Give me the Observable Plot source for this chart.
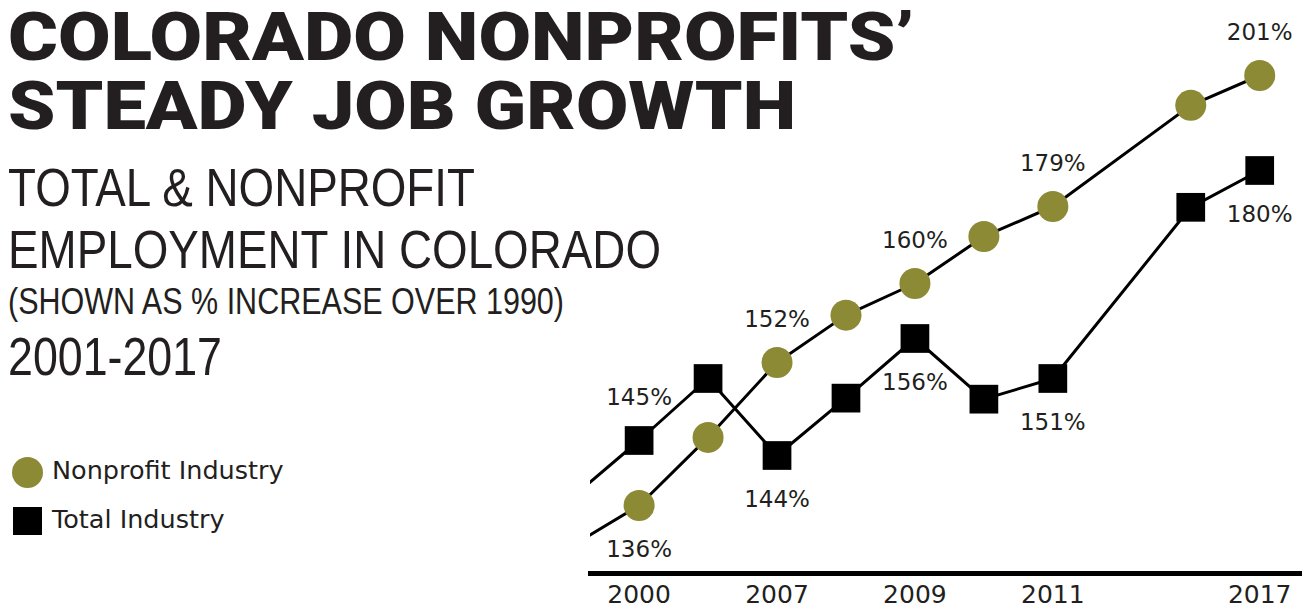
<!DOCTYPE html>
<html>
<head>
<meta charset="utf-8">
<script src="https://cdn.jsdelivr.net/npm/d3@7"></script>
<script src="https://cdn.jsdelivr.net/npm/@observablehq/plot@0.6"></script>
<style>
  html, body { margin: 0; padding: 0; background: #fff; }
  #wrap { position: relative; width: 1312px; height: 610px; overflow: hidden; background: #fff; }
  #chart { position: absolute; left: 0; top: 0; }
  .line { position: absolute; left: 8px; white-space: nowrap; line-height: 1; color: #231f20; transform-origin: 0 0; display: inline-block; }
  .title { font-family: "Roboto", "Liberation Sans", sans-serif; font-weight: 900; font-size: 66px; line-height: 0.75; }
  .sub { font-family: "Liberation Sans Narrow", "Liberation Sans", sans-serif; font-weight: 400; }
  .legend-text { position: absolute; left: 52px; font-family: "DejaVu Sans", sans-serif; font-size: 25.5px; line-height: 1; color: #231f20; white-space: nowrap; }
  .sw { position: absolute; }
</style>
</head>
<body>
<div id="wrap">
  <div id="chart"></div>
  <div class="line title" data-w="906" style="top:13px">COLORADO NONPROFITS’</div>
  <div class="line title" data-w="788" style="top:82px">STEADY JOB GROWTH</div>
  <div class="line sub" data-w="467" style="top:160px;font-size:54px">TOTAL &amp; NONPROFIT</div>
  <div class="line sub" data-w="653" style="top:222px;font-size:54px">EMPLOYMENT IN COLORADO</div>
  <div class="line sub" data-w="556" style="top:283px;font-size:37px">(SHOWN AS % INCREASE OVER 1990)</div>
  <div class="line sub" data-w="214" style="top:329px;font-size:54px">2001-2017</div>

  <div class="sw" style="left:12px;top:457px;width:31px;height:31px;border-radius:50%;background:#8c8a35"></div>
  <div class="legend-text" style="top:458px">Nonprofit Industry</div>
  <div class="sw" style="left:13px;top:507px;width:29px;height:28px;background:#000"></div>
  <div class="legend-text" style="top:507px">Total Industry</div>
</div>
<script>
// ---- data ----
// x steps along the time axis; step -1 is the unmarked lead-in from before 2000
const steps = [-1, 0, 1, 2, 3, 4, 5, 6, 8, 9];
const nonprofit = [129.4, 136, 145.3, 152, 157.7, 160, 171.6, 179, 194.4, 201];
const total     = [137, 145, 151, 144, 149.1, 156, 149, 151, 178.8, 180];
// which points carry a printed value label
const labelled  = [false, true, false, true, false, true, false, true, false, true];
// axis tick steps and their year labels
const tickSteps  = [0, 2, 4, 6, 9];
const tickLabels = ["2000", "2007", "2009", "2011", "2017"];

// the picture is not drawn to a linear scale: piecewise y scale through the labelled values
const yDomain = [128, 136, 144, 145, 151, 152, 156, 160, 179, 180, 201];
const yRange  = [555, 505, 455, 440, 378, 362, 338, 283, 206, 170, 75];

const OLIVE = "#8c8a35";
const INK = "#231f20";

const rows = [];
steps.forEach((s, i) => {
  rows.push({step: s, series: "Nonprofit Industry", value: nonprofit[i], other: total[i], lead: s < 0, label: labelled[i]});
  rows.push({step: s, series: "Total Industry", value: total[i], other: nonprofit[i], lead: s < 0, label: labelled[i]});
});
const np = rows.filter(d => d.series === "Nonprofit Industry");
const tt = rows.filter(d => d.series === "Total Industry");
const labels = rows.filter(d => d.label);
const tickMap = new Map(tickSteps.map((s, i) => [s, tickLabels[i]]));

const chart = Plot.plot({
  width: 1312,
  height: 610,
  marginLeft: 590,
  marginRight: 13,
  marginTop: 0,
  marginBottom: 37,
  style: {background: "transparent", overflow: "visible"},
  x: {domain: [-0.705, 9.577], axis: null},
  y: {type: "linear", domain: yDomain, range: yRange, axis: null},
  marks: [
    Plot.frame({anchor: "bottom", stroke: "#000", strokeWidth: 5}),
    Plot.axisX({
      ticks: tickSteps,
      tickFormat: d => tickMap.get(d),
      tickSize: 0,
      tickPadding: 12,
      fontSize: 25,
      fontFamily: "DejaVu Sans, sans-serif",
      fill: INK,
      color: INK,
      label: null
    }),
    Plot.line(np, {x: "step", y: "value", stroke: "#000", strokeWidth: 3, clip: true}),
    Plot.line(tt, {x: "step", y: "value", stroke: "#000", strokeWidth: 3, clip: true}),
    Plot.dot(np.filter(d => !d.lead), {x: "step", y: "value", r: 15.5, fill: OLIVE, stroke: null}),
    Plot.dot(tt.filter(d => !d.lead), {x: "step", y: "value", r: 16.2, symbol: "square", fill: "#000", stroke: null}),
    Plot.text(labels.filter(d => d.value > d.other), {
      x: "step", y: "value", text: d => `${d.value}%`, dy: -43,
      fontSize: 23, fontFamily: "DejaVu Sans, sans-serif", fill: INK
    }),
    Plot.text(labels.filter(d => d.value < d.other), {
      x: "step", y: "value", text: d => `${d.value}%`, dy: 44,
      fontSize: 23, fontFamily: "DejaVu Sans, sans-serif", fill: INK
    })
  ]
});
document.getElementById("chart").appendChild(chart);

// fit heading lines to the widths they occupy in the picture
function fit() {
  document.querySelectorAll(".line[data-w]").forEach(el => {
    el.style.transform = "none";
    const w = el.getBoundingClientRect().width;
    const target = +el.dataset.w;
    if (w > 0) el.style.transform = `scaleX(${target / w})`;
  });
}
fit();
if (document.fonts && document.fonts.ready) document.fonts.ready.then(fit);
</script>
</body>
</html>
